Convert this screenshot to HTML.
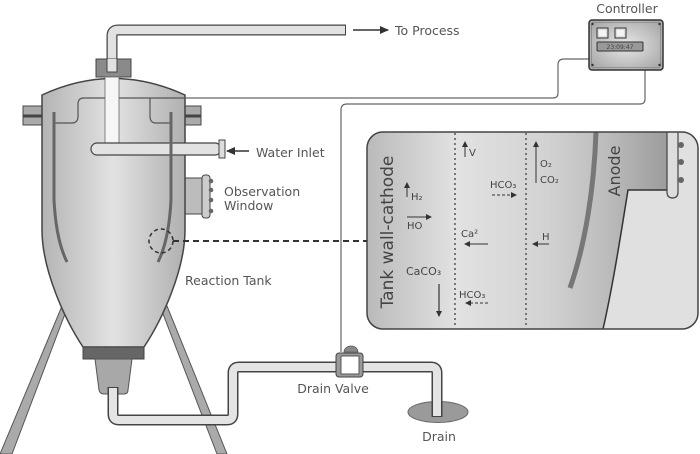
<!DOCTYPE html>
<html><head><meta charset="utf-8"><style>
html,body{margin:0;padding:0;background:#fff;}
svg{display:block;}
text{font-family:"DejaVu Sans","Liberation Sans",sans-serif;fill:#555;}
</style></head><body>
<svg width="700" height="454" viewBox="0 0 700 454" xmlns="http://www.w3.org/2000/svg">
<defs>
<linearGradient id="tg" x1="42" y1="0" x2="185" y2="0" gradientUnits="userSpaceOnUse">
<stop offset="0" stop-color="#b4b4b4"/><stop offset="0.5" stop-color="#e2e2e2"/><stop offset="1" stop-color="#b0b0b0"/>
</linearGradient>
<linearGradient id="pg" x1="367" y1="0" x2="667" y2="0" gradientUnits="userSpaceOnUse">
<stop offset="0" stop-color="#bababa"/><stop offset="0.3" stop-color="#e2e2e2"/><stop offset="0.6" stop-color="#d2d2d2"/><stop offset="0.8" stop-color="#bcbcbc"/><stop offset="1" stop-color="#9c9c9c"/>
</linearGradient>
<radialGradient id="cg" cx="0.5" cy="0.5" r="0.6">
<stop offset="0" stop-color="#e8e8e8"/><stop offset="1" stop-color="#aaaaaa"/>
</radialGradient>
<marker id="ah" markerWidth="6" markerHeight="6" refX="5" refY="3" orient="auto" markerUnits="userSpaceOnUse">
<path d="M0,0 L6,3 L0,6 Z" fill="#333"/>
</marker>
<marker id="ahb" markerWidth="9" markerHeight="8" refX="8" refY="4" orient="auto" markerUnits="userSpaceOnUse">
<path d="M0,0 L9,4 L0,8 Z" fill="#333"/>
</marker>
</defs>

<!-- legs -->
<polygon points="62,306 68,306 12,454 0,454" fill="#aaa" stroke="#555" stroke-width="1"/>
<polygon points="160,306 167,306 227,454 217,454" fill="#aaa" stroke="#555" stroke-width="1"/>

<!-- top pipe -->
<path d="M112,74 V36 Q112,30 118,30 H346" fill="none" stroke="#444" stroke-width="11"/>
<path d="M112,74 V36 Q112,30 118,30 H345" fill="none" stroke="#e2e2e2" stroke-width="8.5"/>
<rect x="96" y="59" width="35" height="18" fill="#8a8a8a" stroke="#444" stroke-width="1"/>
<path d="M107,59 V72 H117 V59" fill="#e2e2e2" stroke="#444" stroke-width="1"/>

<!-- flanges -->
<rect x="23" y="106" width="20" height="19" fill="#aaa" stroke="#444" stroke-width="1"/>
<rect x="23" y="114.5" width="20" height="3" fill="#444"/>
<rect x="184" y="106" width="17" height="19" fill="#aaa" stroke="#444" stroke-width="1"/>
<rect x="184" y="114.5" width="17" height="3" fill="#444"/>

<!-- observation box -->
<rect x="180" y="178" width="23" height="36" fill="#bcbcbc" stroke="#444" stroke-width="1"/>

<!-- tank body -->
<path d="M42,95 Q113,62 185,95 V230 C185,270 162,320 144,347 H83 C65,320 42,270 42,230 Z" fill="url(#tg)" stroke="#444" stroke-width="1.5"/>
<!-- inner line -->
<path d="M55,123 H72 Q78,123 78,116 V104 Q78,98 84,98 H185" fill="none" stroke="#555" stroke-width="1.2"/>
<path d="M150,98 V116 Q150,123 156,123 H172" fill="none" stroke="#555" stroke-width="1.2"/>
<!-- white stem -->
<rect x="105" y="77" width="14" height="67" fill="#f6f6f6" stroke="#666" stroke-width="0.8"/>

<!-- water inlet pipe -->
<rect x="91" y="143" width="130" height="12" rx="6" fill="#e2e2e2" stroke="#444" stroke-width="1.2"/>
<rect x="219" y="140" width="6" height="18" fill="#ddd" stroke="#444" stroke-width="1"/>

<!-- rods -->
<path d="M54,112 V200 Q56,240 67,262" fill="none" stroke="#666" stroke-width="3"/>
<path d="M171,112 V200 Q169,240 158,262" fill="none" stroke="#666" stroke-width="3"/>

<!-- observation window -->
<rect x="202" y="175" width="8" height="43" rx="3" fill="#ccc" stroke="#444" stroke-width="1"/>
<circle cx="211" cy="181" r="2.3" fill="#666"/>
<circle cx="211" cy="190" r="2.3" fill="#666"/>
<circle cx="211" cy="200" r="2.3" fill="#666"/>
<circle cx="211" cy="211" r="2.3" fill="#666"/>

<!-- bottom band & nozzle -->
<rect x="83" y="347" width="61" height="12" fill="#666" stroke="#444" stroke-width="1"/>
<path d="M95,359 H132 L128,390 Q128,394 124,394 H104 Q100,394 99,390 Z" fill="#a8a8a8" stroke="#555" stroke-width="1"/>

<!-- drain ellipse -->
<ellipse cx="438" cy="412" rx="30" ry="10.5" fill="#9a9a9a" stroke="#666" stroke-width="1"/>

<!-- drain pipes -->
<path d="M113,387 V414 Q113,420 119,420 H227 Q233,420 233,414 V373 Q233,367 239,367 H337" fill="none" stroke="#444" stroke-width="11"/>
<path d="M113,388 V414 Q113,420 119,420 H227 Q233,420 233,414 V373 Q233,367 239,367 H337" fill="none" stroke="#e4e4e4" stroke-width="8"/>
<path d="M362,367 H431 Q437,367 437,373 V417" fill="none" stroke="#444" stroke-width="11"/>
<path d="M362,367 H431 Q437,367 437,373 V416" fill="none" stroke="#e4e4e4" stroke-width="8"/>

<!-- wires -->
<path d="M185,98 H553 Q558,98 558,93 V65 Q558,59 564,59 H589" fill="none" stroke="#666" stroke-width="1.2"/>
<path d="M341,352 V110 Q341,104 347,104 H640 Q645,104 645,99 V70" fill="none" stroke="#666" stroke-width="1.2"/>

<!-- valve -->
<path d="M344,352 A7,6 0 0 1 358,352 Z" fill="#888" stroke="#555" stroke-width="0.8"/>
<rect x="336" y="353" width="27" height="24" rx="3" fill="#999" stroke="#444" stroke-width="1"/>
<rect x="341" y="356" width="18" height="18" fill="#fff" stroke="#555" stroke-width="1"/>

<!-- controller -->
<rect x="589" y="20" width="74" height="50" rx="3" fill="url(#cg)" stroke="#333" stroke-width="1.5"/>
<rect x="591.5" y="22.5" width="69" height="45" rx="2" fill="none" stroke="#777" stroke-width="0.6"/>
<rect x="597" y="28" width="11" height="10" fill="#ddd" stroke="#333" stroke-width="1"/>
<rect x="599" y="30" width="7" height="6" fill="#f4f4f4"/>
<rect x="615" y="28" width="11" height="10" fill="#ddd" stroke="#333" stroke-width="1"/>
<rect x="617" y="30" width="7" height="6" fill="#f4f4f4"/>
<rect x="597" y="42" width="46" height="9" rx="1" fill="#999" stroke="#333" stroke-width="1"/>
<text x="620" y="49" font-size="6" text-anchor="middle" style="fill:#444">23:09:47</text>
<circle cx="592.5" cy="24" r="1.2" fill="#333"/>
<circle cx="659.5" cy="24" r="1.2" fill="#333"/>
<circle cx="592.5" cy="65" r="1.2" fill="#333"/>
<circle cx="659.5" cy="65" r="1.2" fill="#333"/>

<!-- detail panel -->
<rect x="367" y="132" width="331" height="197" rx="16" fill="#e0e0e0"/>
<path d="M383,132 H667 V190 H628 C620,240 612,290 603,329 H383 Q367,329 367,313 V148 Q367,132 383,132 Z" fill="url(#pg)"/>
<path d="M667,190 H628 C620,240 612,290 603,329" fill="none" stroke="#333" stroke-width="1.5"/>
<path d="M596,132 C594,190 585,245 570,288" fill="none" stroke="#777" stroke-width="5"/>
<path d="M667,132 V192 Q667,198 672.5,198 Q678,198 678,192 V132" fill="#ddd" stroke="#444" stroke-width="1.2"/>
<circle cx="681" cy="145" r="3" fill="#666"/>
<circle cx="681" cy="162" r="3" fill="#666"/>
<circle cx="681" cy="180" r="3" fill="#666"/>
<rect x="367" y="132" width="331" height="197" rx="16" fill="none" stroke="#444" stroke-width="1.5"/>
<line x1="455" y1="133" x2="455" y2="328" stroke="#777" stroke-width="2" stroke-dasharray="2,3"/>
<line x1="526" y1="133" x2="526" y2="328" stroke="#777" stroke-width="2" stroke-dasharray="2,3"/>

<!-- dashed connector -->
<circle cx="161" cy="241" r="12" fill="none" stroke="#333" stroke-width="1.5" stroke-dasharray="4,3"/>
<line x1="173" y1="241" x2="367" y2="241" stroke="#333" stroke-width="2" stroke-dasharray="6,4"/>

<!-- panel labels -->
<text transform="translate(393,232) rotate(-90)" font-size="17" text-anchor="middle" style="fill:#444">Tank wall-cathode</text>
<text transform="translate(620,171) rotate(-90)" font-size="16" text-anchor="middle" style="fill:#444">Anode</text>

<line x1="407" y1="197" x2="407" y2="183" stroke="#333" stroke-width="1" marker-end="url(#ah)"/>
<text x="411" y="200" font-size="10" style="fill:#444">H₂</text>
<line x1="407" y1="217" x2="431" y2="217" stroke="#333" stroke-width="1" marker-end="url(#ah)"/>
<text x="407" y="229" font-size="10" style="fill:#444">HO</text>
<text x="406" y="275" font-size="11" style="fill:#444">CaCO₃</text>
<line x1="439" y1="284" x2="439" y2="316" stroke="#333" stroke-width="1.2" marker-end="url(#ah)"/>

<line x1="465" y1="157" x2="465" y2="142" stroke="#333" stroke-width="1" marker-end="url(#ah)"/>
<text x="469" y="156" font-size="10" style="fill:#444">V</text>
<text x="490" y="188" font-size="10" style="fill:#444">HCO₃</text>
<line x1="492" y1="195" x2="516" y2="195" stroke="#333" stroke-width="1" stroke-dasharray="3,2" marker-end="url(#ah)"/>
<text x="461" y="237" font-size="10" style="fill:#444">Ca²</text>
<line x1="488" y1="244" x2="465" y2="244" stroke="#333" stroke-width="1" marker-end="url(#ah)"/>
<text x="459" y="298" font-size="10" style="fill:#444">HCO₃</text>
<line x1="488" y1="303" x2="466" y2="303" stroke="#333" stroke-width="1" stroke-dasharray="3,2" marker-end="url(#ah)"/>

<line x1="536" y1="183" x2="536" y2="142" stroke="#333" stroke-width="1" marker-end="url(#ah)"/>
<text x="540" y="167" font-size="10" style="fill:#444">O₂</text>
<text x="540" y="183" font-size="10" style="fill:#444">CO₂</text>
<text x="542" y="240" font-size="10" style="fill:#444">H</text>
<line x1="549" y1="244" x2="533" y2="244" stroke="#333" stroke-width="1" marker-end="url(#ah)"/>

<!-- external labels & arrows -->
<line x1="353" y1="30" x2="388" y2="30" stroke="#333" stroke-width="1.5" marker-end="url(#ahb)"/>
<text x="395" y="35" font-size="12.5">To Process</text>
<line x1="249" y1="151" x2="227" y2="151" stroke="#333" stroke-width="1.5" marker-end="url(#ahb)"/>
<text x="256" y="157" font-size="12.5">Water Inlet</text>
<text x="224" y="196" font-size="12.5">Observation</text>
<text x="224" y="210" font-size="12.5">Window</text>
<text x="185" y="285" font-size="12.5">Reaction Tank</text>
<text x="627" y="13" font-size="12.5" text-anchor="middle">Controller</text>
<text x="333" y="393" font-size="12.5" text-anchor="middle">Drain Valve</text>
<text x="439" y="441" font-size="12.5" text-anchor="middle">Drain</text>
</svg>
</body></html>
